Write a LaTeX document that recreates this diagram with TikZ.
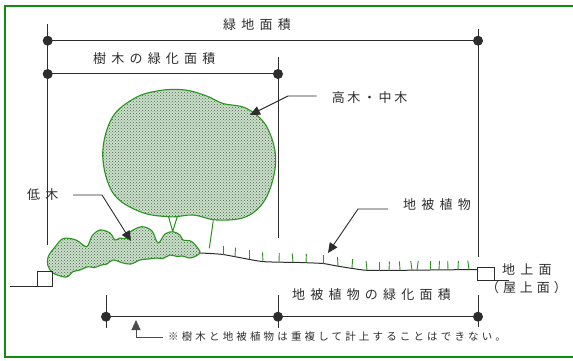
\documentclass[tikz,border=0pt]{standalone}
\usepackage{fontspec}
\usetikzlibrary{arrows.meta,patterns}
\newfontfamily\jp{Noto Sans CJK JP}[LetterSpace=40]
\newfontfamily\jpmid{Noto Sans CJK JP}[LetterSpace=20]
\newfontfamily\jppar{Noto Sans CJK JP}[LetterSpace=30]
\newfontfamily\jpnote{Noto Sans CJK JP}[LetterSpace=30]
\definecolor{frame}{RGB}{16,140,16}
\definecolor{leaf}{RGB}{40,150,30}
\definecolor{ink}{RGB}{45,45,45}
\definecolor{leaffill}{RGB}{200,226,200}
\tikzset{
  dimline/.style={ink, line width=1pt},
  extline/.style={ink, line width=0.9pt},
  dimdot/.style={circle, fill=ink, inner sep=0pt, minimum size=10pt},
  leader/.style={ink, line width=0.9pt, -{Triangle[length=10pt,width=9pt]}},
  label/.style={inner sep=0pt, text=ink, font=\jp\fontsize{13}{14}\selectfont},
  midlabel/.style={inner sep=0pt, text=ink, font=\jpmid\fontsize{13}{14}\selectfont},
  parlabel/.style={inner sep=0pt, text=ink, font=\jppar\fontsize{13}{14}\selectfont},
  notelabel/.style={inner sep=0pt, text=ink, font=\jpnote\fontsize{10.5}{12}\selectfont},
  canopy/.style={draw=leaf, line width=1.1pt,
    preaction={fill=leaffill},
    preaction={pattern=crosshatch dots, pattern color=ink!80}},
  trunk/.style={leaf, line width=1pt},
  grass/.style={leaf, line width=0.9pt},
  ground/.style={ink, line width=1pt}
}
\begin{document}
\begin{tikzpicture}[x=1pt,y=-1pt]
\useasboundingbox (0,0) rectangle (573,361);
\fill[white] (0,0) rectangle (573,361);
% outer frame
\draw[frame, line width=2pt] (5,6) rectangle (580,357);

% extension lines
\draw[extline] (47.7,24) -- (47.7,245);
\draw[extline] (478,29) -- (478,257);
\draw[extline] (478,295) -- (478,327);
\draw[extline] (278,57) -- (278,238);
\draw[extline] (278,295) -- (278,328);
\draw[extline] (106,295) -- (106,328);

% dimension points
\node[dimdot] (gA) at (47.7,40.7) {};
\node[dimdot] (gB) at (478,40.7) {};
\node[dimdot] (tA) at (47.7,74) {};
\node[dimdot] (tB) at (278,74) {};
\node[dimdot] (cA) at (106,316.7) {};
\node[dimdot] (cM) at (278,316.7) {};
\node[dimdot] (cB) at (478,316.7) {};
\draw[dimline] (gA.center) -- (gB.center);
\draw[dimline] (tA.center) -- (tB.center);
\draw[dimline] (cA.center) -- (cB.center);

% dimension labels
\node[label, anchor=west] (lgreen) at (223,25) {緑地面積};
\node[label, anchor=west] (ltree) at (93,59) {樹木の緑化面積};
\node[label, anchor=west] (lcover) at (292,295) {地被植物の緑化面積};

% tall tree canopy
\draw[canopy] plot[smooth cycle, tension=0.6] coordinates {
  (160,90.5) (185,90) (206.7,96) (223,103.5) (246.7,108.5) (266.7,126.7) (275.7,160)
  (266.7,196.7) (246.7,216.5) (216.7,220) (193.3,215) (170,216.8)
  (140,211.7) (113,193) (102.7,155) (112,118) (135,98)};
\draw[trunk] (168.5,216.5) -- (172.7,231.5) -- (177.3,216.5);
\draw[trunk] (213.3,220.5) -- (209.3,248.3);

% shrub
\draw[canopy] plot[smooth cycle, tension=0.55] coordinates {
  (48.3,256.5) (55,247) (63.3,238.5) (76,240) (86.7,246.7) (92,236)
  (100,230) (110,233) (115,240) (120,238) (126,238.5) (130,232)
  (141.7,226.7) (152,231) (158,243) (165,234) (173,231.7) (180,235)
  (183,240) (191.7,241.5) (200,251.7) (196,256) (190,258) (182,256)
  (177,256.5) (170,255) (163,258.5) (156.7,258) (148,259) (140,260)
  (131,264) (123,263) (113,260) (107,264) (101.7,265) (94,267.5)
  (88,266.7) (80,270) (73,271.7) (68,276.5) (63,276.7) (53,273) (48,266)};

% ground and grass
\draw[ground] (10,286.7) -- (52,286.7);
\draw[ground] (37,271.5) rectangle (52,286.7);
\draw[ground] plot[smooth, tension=0.35] coordinates {
  (200,253) (223,254.5) (262,261.5) (300,262.5) (323,263.5) (337,266)
  (363,270) (380,270.5) (430,270) (477,269.5)};
\draw[ground] (477,267) rectangle (494,280);
\draw[ground] (494,280) -- (509,280);
\foreach \gx/\gy/\dx in {223/254.5/0, 235/256.6/0.5, 249/259/0, 263/261.3/-0.5,
  279/262/0.3, 293/262.3/-0.8, 306/262.8/0.4, 323/263.5/0, 338/266/-0.5,
  352/268/0.6, 367/270/-1, 379/270.5/0, 389/270.5/0.4, 400/270.3/-0.6,
  412/270.2/-1.2, 417/270.2/1.2, 430/270/0, 439/270/0.5, 448/269.9/-0.3,
  458/269.8/0.4, 469/269.6/-1.2}
  \draw[grass] (\gx,\gy) -- ++(\dx,-9);

% labels with leaders
\node[midlabel, anchor=west] (ltall) at (331.7,98) {高木・中木};
\coordinate (ltallEnd) at (316.5,96);
\coordinate (ltallBend) at (288,96);
\coordinate (ltallTip) at (250,115);
\draw[leader] (ltallEnd) -- (ltallBend) -- (ltallTip);

\node[label, anchor=west] (lshrub) at (27,195) {低木};
\coordinate (lshrubEnd) at (73,195);
\coordinate (lshrubBend) at (102,195);
\coordinate (lshrubTip) at (131,241);
\draw[leader] (lshrubEnd) -- (lshrubBend) -- (lshrubTip);

\node[label, anchor=west] (lcov) at (403,205) {地被植物};
\coordinate (lcovEnd) at (388,209);
\coordinate (lcovBend) at (358,209);
\coordinate (lcovTip) at (328,253);
\draw[leader] (lcovEnd) -- (lcovBend) -- (lcovTip);

\node[label, anchor=west] (lgl) at (502,270) {地上面};
\node[parlabel, anchor=west] (lroof) at (486,288) {（屋上面）};

% note
\node[notelabel, anchor=west] (note) at (168,337)
  {※樹木と地被植物は重複して計上することはできない。};
\coordinate (noteEnd) at (163,337);
\coordinate (noteBend) at (136,337);
\coordinate (noteTip) at (136,320);
\draw[leader, ink!85] (noteEnd) -- (noteBend) -- (noteTip);
\end{tikzpicture}
\end{document}
